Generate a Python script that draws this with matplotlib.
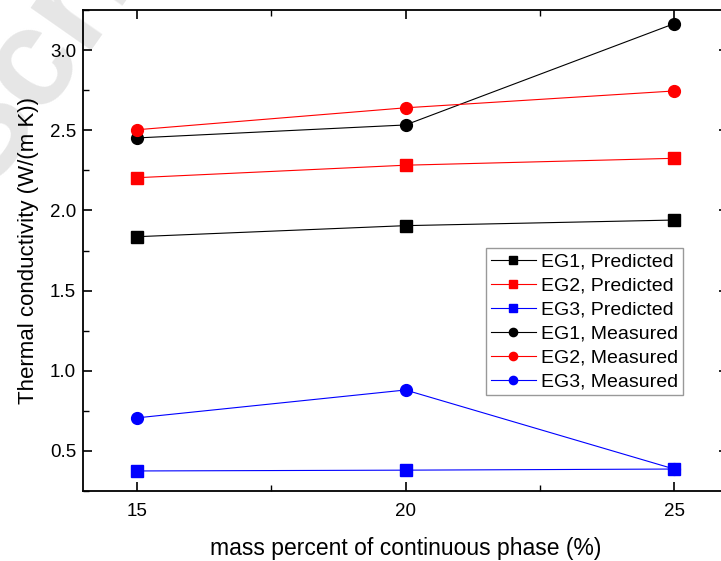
import numpy as np
import matplotlib.pyplot as plt
from matplotlib.ticker import MultipleLocator

plt.rcParams['font.family'] = ['Liberation Sans', 'DejaVu Sans']

# 数据
mass_pct = [15, 20, 25]
eg1_pred = [1.836, 1.905, 1.940]
eg2_pred = [2.204, 2.282, 2.325]
eg3_pred = [0.375, 0.380, 0.387]
eg1_meas = [2.452, 2.533, 3.165]
eg2_meas = [2.503, 2.640, 2.745]
eg3_meas = [0.706, 0.880, 0.387]

fig = plt.figure(figsize=(7.21, 5.61), dpi=100)
ax = fig.add_axes([83 / 721, 1 - 491 / 561, 645 / 721, 481 / 561])
ax.patch.set_alpha(0)

# 水印（放在坐标轴下面）
fig.text(-95 / 721, 1 - 180 / 561, 'Scribd', fontsize=100, color='#e6e6e6',
         fontweight='bold', rotation=55, ha='left', va='baseline', zorder=-1)

lw = 0.8
ax.plot(mass_pct, eg1_pred, '-s', color='black', lw=lw, ms=8, label='EG1, Predicted')
ax.plot(mass_pct, eg2_pred, '-s', color='red', lw=lw, ms=8, label='EG2, Predicted')
ax.plot(mass_pct, eg3_pred, '-s', color='blue', lw=lw, ms=8, label='EG3, Predicted')
ax.plot(mass_pct, eg1_meas, '-o', color='black', lw=lw, ms=8.5, label='EG1, Measured')
ax.plot(mass_pct, eg2_meas, '-o', color='red', lw=lw, ms=8.5, label='EG2, Measured')
ax.plot(mass_pct, eg3_meas, '-o', color='blue', lw=lw, ms=8.5, label='EG3, Measured')

ax.set_xlim(14, 26)
ax.set_ylim(0.25, 3.25)
ax.set_xticks(mass_pct)
ax.xaxis.set_minor_locator(MultipleLocator(2.5))
ax.yaxis.set_major_locator(MultipleLocator(0.5))
ax.yaxis.set_minor_locator(MultipleLocator(0.25))
ax.tick_params(which='both', direction='in', top=True, right=True, labelsize=13.5)
ax.tick_params(which='major', length=6.5, width=1.2)
ax.tick_params(which='minor', length=4, width=1)
ax.tick_params(axis='x', pad=9)
ax.tick_params(axis='y', pad=5)
for s in ax.spines.values():
    s.set_linewidth(1.3)

ax.set_xlabel('mass percent of continuous phase (%)', fontsize=16.5, labelpad=12)
ax.set_ylabel('Thermal conductivity (W/(m K))', fontsize=16, labelpad=8)

leg = ax.legend(loc='upper left', bbox_to_anchor=(486 / 721, 1 - 248 / 561),
                bbox_transform=fig.transFigure, fontsize=14, frameon=True,
                fancybox=False, edgecolor='gray', handlelength=2.3, markerscale=0.7,
                borderaxespad=0, labelspacing=0.33, borderpad=0.25, handletextpad=0.3)
leg.get_frame().set_linewidth(1.0)

fig.savefig('out.png', dpi=100)
